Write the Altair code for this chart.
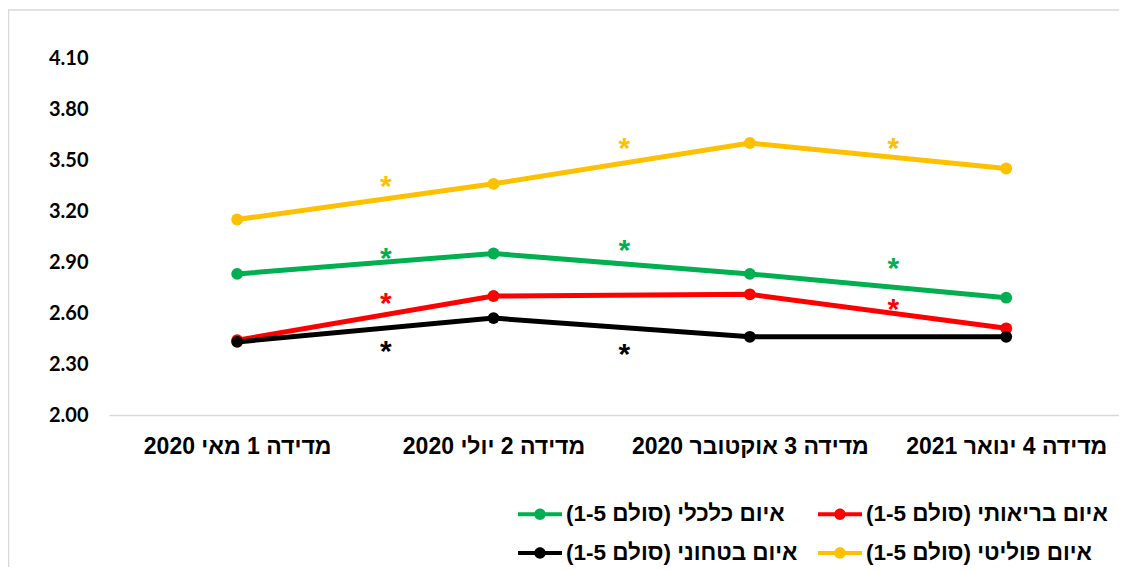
import altair as alt
import pandas as pd

# ---------------- data ----------------
categories = ["מדידה 1 מאי 2020", "מדידה 2 יולי 2020", "מדידה 3 אוקטובר 2020", "מדידה 4 ינואר 2021"]
cat_pos = [0, 1, 2, 3]

s_econ = "איום כלכלי (סולם 1-5)"
s_health = "איום בריאותי (סולם 1-5)"
s_security = "איום בטחוני (סולם 1-5)"
s_political = "איום פוליטי (סולם 1-5)"

political_vals = [3.15, 3.36, 3.60, 3.45]
econ_vals = [2.83, 2.95, 2.83, 2.69]
health_vals = [2.44, 2.70, 2.71, 2.51]
security_vals = [2.43, 2.57, 2.46, 2.46]

# significance stars between measurements (position on category axis, value)
star_series = [s_political, s_political, s_political, s_econ, s_econ, s_econ, s_health, s_health, s_security, s_security]
star_x = [0.58, 1.51, 2.56, 0.58, 1.51, 2.56, 0.58, 2.56, 0.58, 1.51]
star_y = [3.39, 3.61, 3.61, 2.965, 3.01, 2.905, 2.70, 2.665, 2.42, 2.40]

legend_order = [s_econ, s_health, s_security, s_political]
legend_colors = ["#00B050", "#FF0000", "#000000", "#FFC000"]
draw_order = [s_political, s_econ, s_health, s_security]
series_values = {s_political: political_vals, s_econ: econ_vals, s_health: health_vals, s_security: security_vals}
series_color = dict(zip(legend_order, legend_colors))

y_ticks = [2.0, 2.3, 2.6, 2.9, 3.2, 3.5, 3.8, 4.1]

# ---------------- chart ----------------
W, H = 1010, 357
x_scale = alt.Scale(domain=[-0.5, 3.44], nice=False, zero=False)
y_scale = alt.Scale(domain=[2.0, 4.1], nice=False, zero=False)

label_expr = "[" + ",".join("'" + c + "'" for c in categories) + "][datum.value]"

x_axis = alt.Axis(values=cat_pos, labelExpr=label_expr, title=None, ticks=False, grid=False,
                  domainColor="#d9d9d9", domainWidth=1.5, labelFont="Liberation Sans",
                  labelFontWeight="bold", labelFontSize=23, labelColor="#000000", labelLimit=500,
                  labelPadding=20, labelOverlap=False, labelFlush=False)
y_axis = alt.Axis(values=y_ticks, format=".2f", title=None, ticks=False, grid=False, domain=False,
                  labelFont="Lato", labelFontWeight="bold", labelFontSize=20, labelColor="#000000",
                  labelPadding=21)

color_scale = alt.Scale(domain=legend_order, range=legend_colors)

sym_path = ("M-1.4667,-0.14H1.4667V0.14H-1.4667Z "
            "M-0.38,0A0.38,0.38,0,1,1,0.38,0A0.38,0.38,0,1,1,-0.38,0Z")

legend = alt.Legend(title=None, orient="none", legendX=416, legendY=441, columns=2,
                    direction="horizontal",
                    symbolType=sym_path, symbolSize=900, symbolStrokeWidth=0, symbolOpacity=1,
                    labelFont="Liberation Sans", labelFontWeight="bold", labelFontSize=22.5,
                    labelColor="#000000", labelLimit=500, labelOffset=11,
                    labelExpr="datum.label + '\u200f'",
                    columnPadding=19, rowPadding=12, padding=0)

layers = []

frame = alt.Chart(alt.Data(values=[{"a": 1}])).mark_rect(
    fill=None, filled=False, stroke="#d9d9d9", strokeWidth=1.5
).encode(x=alt.value(-100.5), x2=alt.value(1200), y=alt.value(-48), y2=alt.value(700))
layers.append(frame)

stars_df = pd.DataFrame({"pos": star_x, "value": star_y, "series": star_series})

for s in draw_order:
    c = series_color[s]
    df = pd.DataFrame({"pos": cat_pos, "value": series_values[s], "series": [s] * 4})
    base = alt.Chart(df)
    line = base.mark_line(strokeWidth=5, color=c).encode(
        x=alt.X("pos:Q", scale=x_scale, axis=x_axis),
        y=alt.Y("value:Q", scale=y_scale, axis=y_axis),
    )
    pts = base.mark_circle(size=140, opacity=1).encode(
        x=alt.X("pos:Q", scale=x_scale, axis=x_axis),
        y=alt.Y("value:Q", scale=y_scale, axis=y_axis),
        color=alt.Color("series:N", scale=color_scale, legend=legend),
    )
    stars = alt.Chart(stars_df[stars_df["series"] == s]).mark_text(
        text="*", font="Liberation Sans", fontWeight="bold", fontSize=30,
        baseline="alphabetic", dy=17, color=c
    ).encode(
        x=alt.X("pos:Q", scale=x_scale, axis=x_axis),
        y=alt.Y("value:Q", scale=y_scale, axis=y_axis),
    )
    layers += [line, pts, stars]

chart = alt.layer(*layers).properties(
    width=W, height=H,
    padding={"left": 101, "top": 50, "right": 0, "bottom": 152},
    autosize=alt.AutoSizeParams(type="none"),
    background="#ffffff",
).configure_view(stroke=None)

chart.save("out.html", embed_options={"renderer": "svg", "actions": False})
